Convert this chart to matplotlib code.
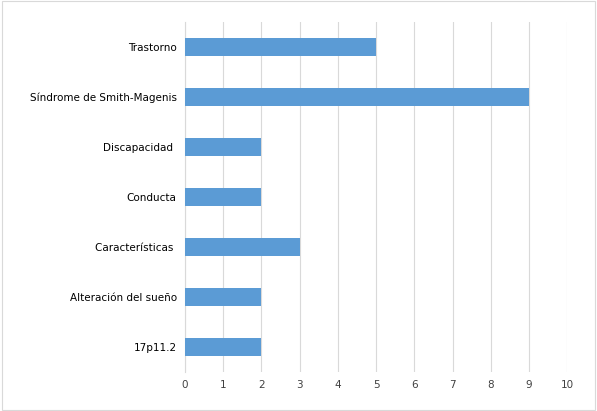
import matplotlib
matplotlib.use("Agg")
import matplotlib.pyplot as plt
from matplotlib.patches import Rectangle

categories = ["Trastorno", "Síndrome de Smith-Magenis", "Discapacidad ", "Conducta",
              "Características ", "Alteración del sueño", "17p11.2"]
values = [5, 9, 2, 2, 3, 2, 2]
xticks = list(range(0, 11))

fig = plt.figure(figsize=(5.97, 4.11), dpi=100)
fig.patches.append(Rectangle((0.003, 0.003), 0.994, 0.994, transform=fig.transFigure,
                             fill=False, edgecolor="#d9d9d9", linewidth=0.8))
ax = fig.add_axes([0.31, 0.095, 0.64, 0.851])
y = list(range(len(categories)))[::-1]
ax.barh(y, values, height=0.36, color="#5b9bd5", zorder=3)
ax.set_xlim(0, 10)
ax.set_ylim(-0.5, len(categories) - 0.5)
ax.set_xticks(xticks)
ax.set_xticklabels([str(t) for t in xticks], fontsize=7.5, color="#404040")
ax.set_yticks(y)
ax.set_yticklabels(categories, fontsize=7.5, color="#000000")
ax.grid(axis="x", color="#d9d9d9", linewidth=0.8, zorder=0)
for s in ["top", "right", "bottom"]:
    ax.spines[s].set_visible(False)
ax.spines["left"].set_color("#d9d9d9")
ax.tick_params(length=0, pad=6)
fig.savefig("out.png", dpi=100)
